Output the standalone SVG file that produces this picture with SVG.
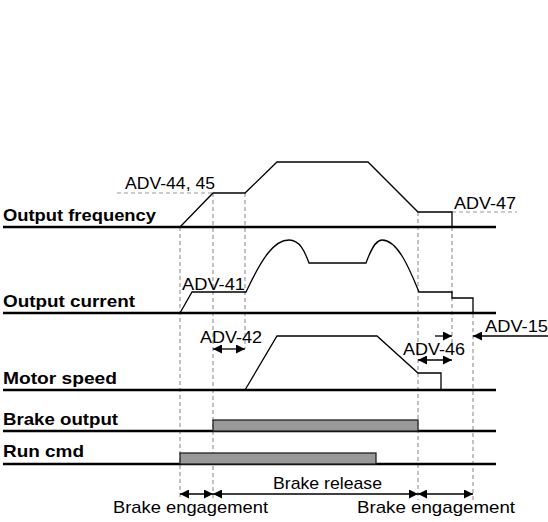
<svg xmlns="http://www.w3.org/2000/svg" width="548" height="522" viewBox="0 0 548 522">
<style>
.lbl{font-family:"Liberation Sans",Arial,sans-serif;font-weight:bold;font-size:17px;fill:#000}
.t{font-family:"Liberation Sans",Arial,sans-serif;font-size:17px;fill:#000}
.base{stroke:#000;stroke-width:2.5;fill:none}
.sig{stroke:#000;stroke-width:1.3;fill:none}
.dash{stroke:#999;stroke-width:1.2;stroke-dasharray:4,3;fill:none}
.bar{fill:#999;stroke:#222;stroke-width:1.3}
.arr{stroke:#000;stroke-width:1.3;fill:none}
</style>
<defs>
<marker id="ah" viewBox="0 0 10 10" refX="10" refY="5" markerWidth="9" markerHeight="9" markerUnits="userSpaceOnUse" orient="auto-start-reverse">
<path d="M0,0 L10,5 L0,10 z" fill="#000"/>
</marker>
</defs>
<rect width="548" height="522" fill="#fff"/>
<g id="guides">
<path class="dash" d="M180,227 V500"/>
<path class="dash" d="M213,193 V500"/>
<path class="dash" d="M245,193 V349"/>
<path class="dash" d="M418,212 V500"/>
<path class="dash" d="M452,227 V345"/>
<path class="dash" d="M473,314 V500"/>
<path class="dash" d="M117,193 H213"/>
<path class="dash" d="M452,212 H517"/>
</g>
<g id="output-frequency">
<line class="base" x1="3" y1="227" x2="496" y2="227"/>
<text class="lbl" x="3" y="221" textLength="153" lengthAdjust="spacingAndGlyphs">Output frequency</text>
<path class="sig" d="M180,227 L213,193 L245,193 L277,162 L368,162 L418,212 L452,212 L452,227"/>
<text class="t" x="125" y="189" textLength="90" lengthAdjust="spacingAndGlyphs">ADV-44, 45</text>
<text class="t" x="454" y="209" textLength="62" lengthAdjust="spacingAndGlyphs">ADV-47</text>
</g>
<g id="output-current">
<line class="base" x1="3" y1="313" x2="496" y2="313"/>
<text class="lbl" x="3" y="307" textLength="132" lengthAdjust="spacingAndGlyphs">Output current</text>
<path class="sig" d="M180,313 L192,292 L246,292 C262,258 274,240 289,240 C300,240 305,252 309,263 L366,263 C370,252 375,240 382,240 C398,240 410,270 419,292 L452,292 L452,298 L473,298 L473,313"/>
<text class="t" x="182" y="290" textLength="63" lengthAdjust="spacingAndGlyphs">ADV-41</text>
</g>
<g id="motor-speed">
<line class="base" x1="3" y1="390" x2="496" y2="390"/>
<text class="lbl" x="3" y="384" textLength="114" lengthAdjust="spacingAndGlyphs">Motor speed</text>
<path class="sig" d="M245,390 L277,336 L377,336 L418,373 L441,373 L441,390"/>
<text class="t" x="200" y="343" textLength="62" lengthAdjust="spacingAndGlyphs">ADV-42</text>
<text class="t" x="403" y="355" textLength="62" lengthAdjust="spacingAndGlyphs">ADV-46</text>
<text class="t" x="485" y="332" textLength="63" lengthAdjust="spacingAndGlyphs">ADV-15</text>
</g>
<g id="brake-output">
<line class="base" x1="3" y1="431" x2="496" y2="431"/>
<text class="lbl" x="3" y="425" textLength="115" lengthAdjust="spacingAndGlyphs">Brake output</text>
<rect class="bar" x="213" y="420" width="205" height="11"/>
</g>
<g id="run-cmd">
<line class="base" x1="3" y1="464" x2="496" y2="464"/>
<text class="lbl" x="3" y="457" textLength="81" lengthAdjust="spacingAndGlyphs">Run cmd</text>
<rect class="bar" x="180" y="453" width="196" height="11"/>
</g>
<g id="connectors">
<line class="arr" x1="213" y1="349" x2="245" y2="349" marker-start="url(#ah)" marker-end="url(#ah)"/>
<line class="arr" x1="418" y1="360" x2="452" y2="360" marker-start="url(#ah)" marker-end="url(#ah)"/>
<line class="arr" x1="435" y1="336" x2="452" y2="336" marker-end="url(#ah)"/>
<line class="arr" x1="548" y1="336" x2="473" y2="336" marker-end="url(#ah)"/>
<line class="arr" x1="180" y1="494" x2="213" y2="494" marker-start="url(#ah)" marker-end="url(#ah)"/>
<line class="arr" x1="213" y1="494" x2="418" y2="494" marker-start="url(#ah)" marker-end="url(#ah)"/>
<line class="arr" x1="418" y1="494" x2="473" y2="494" marker-start="url(#ah)" marker-end="url(#ah)"/>
</g>
<g id="phase-labels">
<text class="t" x="273" y="489" textLength="109" lengthAdjust="spacingAndGlyphs">Brake release</text>
<text class="t" x="113" y="513" textLength="155" lengthAdjust="spacingAndGlyphs">Brake engagement</text>
<text class="t" x="357" y="513" textLength="158" lengthAdjust="spacingAndGlyphs">Brake engagement</text>
</g>
</svg>
